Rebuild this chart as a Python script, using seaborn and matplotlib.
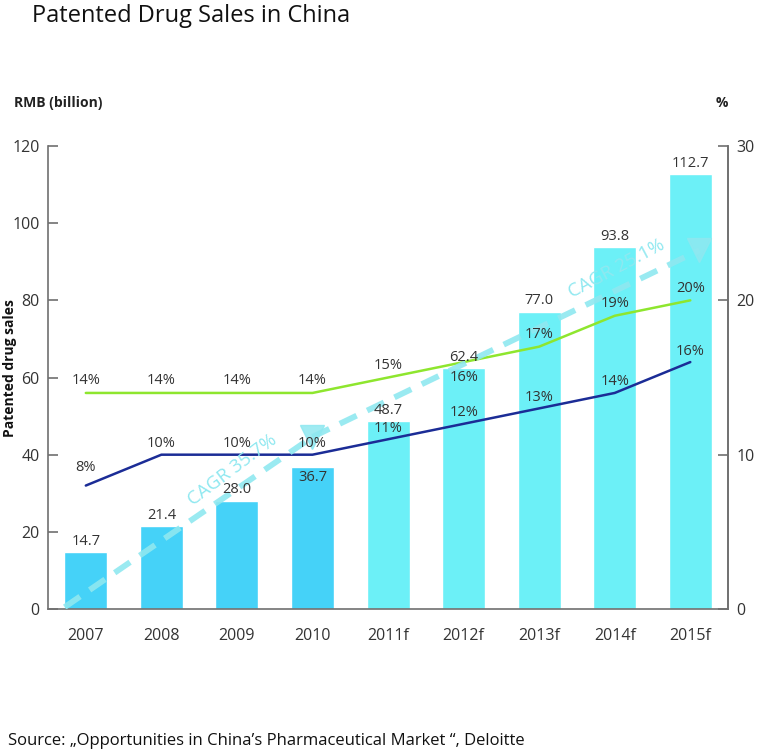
import numpy as np
import pandas as pd
import matplotlib
matplotlib.use("Agg")
import matplotlib.pyplot as plt
import seaborn as sns

# ---- data ----
years = ["2007", "2008", "2009", "2010", "2011f", "2012f", "2013f", "2014f", "2015f"]
sales = [14.7, 21.4, 28.0, 36.7, 48.7, 62.4, 77.0, 93.8, 112.7]
kind = ["actual", "actual", "actual", "actual", "forecast", "forecast", "forecast", "forecast", "forecast"]
share_green = [14, 14, 14, 14, 15, 16, 17, 19, 20]   # %
share_navy = [8, 10, 10, 10, 11, 12, 13, 14, 16]     # %
cagr_labels = ["CAGR 35.7%", "CAGR 25.1%"]
# CAGR arrow annotation anchors (x in category units, y in RMB bn)
cagr_x = [-0.28, 3.0, 8.12]
cagr_y = [0.5, 44.6, 93.0]
cagr_text_x = [1.94, 7.02]
cagr_text_y = [36.0, 88.3]
cagr_text_rot = [37, 28]

sns.set_theme(style="white")
plt.rcParams["font.family"] = ["Open Sans", "DejaVu Sans"]

C_ACT = "#45d2f8"
C_FC = "#6cf0f7"
C_GREEN = "#8ee62e"
C_NAVY = "#1b2c96"
C_CAGR = "#8fe8f0"
TXT = "#333333"
AXC = "#707070"

df = pd.DataFrame({"year": years, "sales": sales, "kind": kind,
                   "pos": np.arange(len(years)),
                   "green": share_green, "navy": share_navy})

fig = plt.figure(figsize=(7.6, 7.53), dpi=100)
ax = fig.add_axes([0.0632, 0.1912, 0.8948, 0.6149])

sns.barplot(data=df, x="year", y="sales", hue="kind",
            palette={"actual": C_ACT, "forecast": C_FC},
            dodge=False, width=0.57, legend=False, ax=ax, saturation=1)

ax.set_xlim(-0.5, 8.5)
ax.set_ylim(0, 120)
ax.set_yticks([0, 20, 40, 60, 80, 100, 120])
ax.set_xlabel("")
ax.set_ylabel("")
ax.spines["top"].set_visible(False)
for s in ["left", "bottom", "right"]:
    ax.spines[s].set_color(AXC)
    ax.spines[s].set_linewidth(1.2)
ax.tick_params(axis="y", direction="in", length=7, width=1.2, color=AXC,
               labelsize=11.5, labelcolor=TXT, pad=6)
ax.tick_params(axis="x", length=0, labelsize=11.5, labelcolor=TXT, pad=14)

# secondary axis with shares
ax2 = ax.twinx()
sns.lineplot(data=df, x="pos", y="green", color=C_GREEN, lw=1.8, ax=ax2)
sns.lineplot(data=df, x="pos", y="navy", color=C_NAVY, lw=1.8, ax=ax2)
ax2.set_ylim(0, 30)
ax2.set_xlim(-0.5, 8.5)
ax2.set_yticks([0, 10, 20, 30])
ax2.set_ylabel("")
ax2.set_xlabel("")
for s in ["top", "left", "bottom"]:
    ax2.spines[s].set_visible(False)
ax2.spines["right"].set_color(AXC)
ax2.spines["right"].set_linewidth(1.2)
ax2.tick_params(axis="y", direction="in", length=7, width=1.2, color=AXC,
                labelsize=11.5, labelcolor=TXT, pad=6)
ax2.grid(False)
ax.grid(False)

trans = ax.transData

# bar value labels (on top layer, in bar data coordinates)
for i, v in enumerate(sales):
    off = -10 if years[i] == "2010" else 11
    ax2.annotate(f"{v:.1f}", (i, v), xycoords=trans, xytext=(0, off),
                 textcoords="offset pixels", ha="center", va="center",
                 fontsize=10.5, color=TXT, zorder=6)

for i, v in enumerate(share_green):
    off = -15 if years[i] == "2012f" else 12
    ax2.annotate(f"{v}%", (i, v), xytext=(0, off), textcoords="offset pixels",
                 ha="center", va="center", fontsize=10.5, color=TXT, zorder=6)
for i, v in enumerate(share_navy):
    off = 18 if i == 0 else 11
    ax2.annotate(f"{v}%", (i, v), xytext=(0, off), textcoords="offset pixels",
                 ha="center", va="center", fontsize=10.5, color=TXT, zorder=6)

# CAGR arrows (drawn in left-axis data coordinates)
for k in range(2):
    ax2.plot(cagr_x[k:k + 2], cagr_y[k:k + 2], transform=trans, color=C_CAGR,
             lw=4.2, dashes=(3.2, 2.0), solid_capstyle="butt", zorder=4, alpha=0.9)
    ax2.plot([cagr_x[k + 1]], [cagr_y[k + 1]], transform=trans, marker="v",
             markersize=17, color=C_CAGR, linestyle="none", zorder=4, alpha=0.85)
    ax2.text(cagr_text_x[k], cagr_text_y[k], cagr_labels[k], transform=trans,
             rotation=cagr_text_rot[k], rotation_mode="anchor", ha="center", va="center",
             fontsize=13.5, color=C_CAGR, zorder=5)

# headers
fig.text(14 / 760, 1 - 103 / 753, "RMB (billion)", fontsize=10, fontweight="bold",
         color="#222222", ha="left", va="center")
fig.text(716 / 760, 1 - 103 / 753, "%", fontsize=10, fontweight="bold",
         color="#222222", ha="left", va="center")
fig.text(10 / 760, 1 - 368 / 753, "Patented drug sales", fontsize=10, fontweight="bold",
         color="#111111", ha="center", va="center", rotation=90)

fig.text(32 / 760, 1 - 16 / 753, "Patented Drug Sales in China", fontsize=17,
         color="#111111", ha="left", va="center")
fig.text(8 / 760, 1 - 741 / 753,
         "Source: \u201eOpportunities in China\u2019s Pharmaceutical Market \u201c, Deloitte",
         fontsize=12, color="#111111", ha="left", va="center")

fig.savefig("out.png", dpi=100, facecolor="white")
